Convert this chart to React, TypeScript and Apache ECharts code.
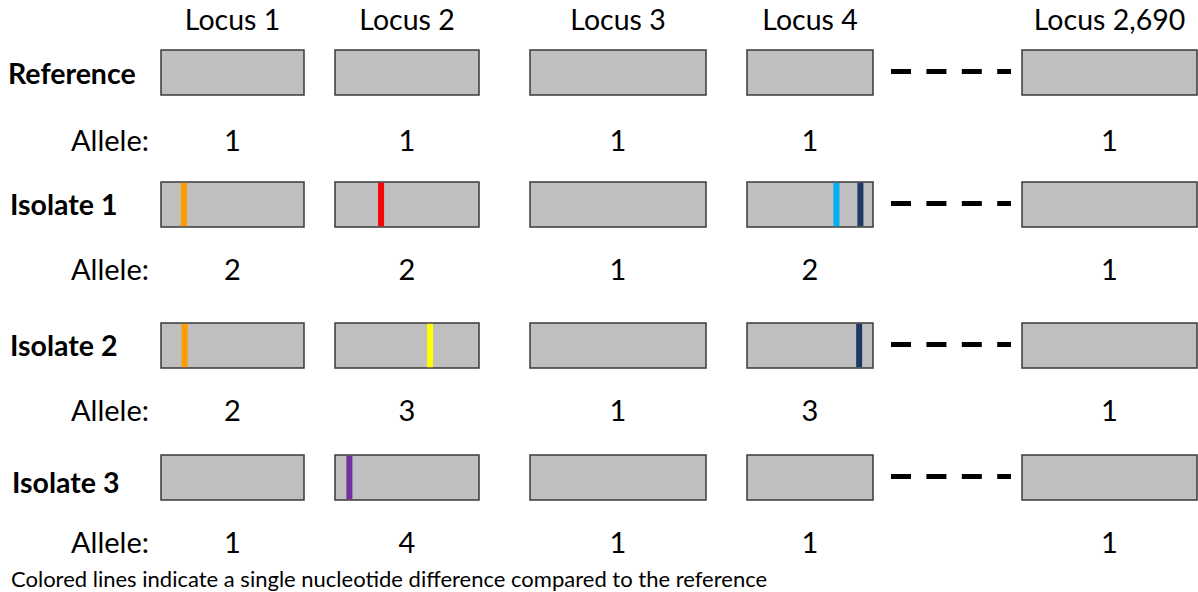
import React, { useEffect, useRef } from "react";
import * as echarts from "echarts";

// ---------- data ----------
const loci = ["Locus 1", "Locus 2", "Locus 3", "Locus 4", "Locus 2,690"];
const rows = ["Reference", "Isolate 1", "Isolate 2", "Isolate 3"];
const alleleLabel = "Allele:";
const alleles = [
  [1, 1, 1, 1, 1],
  [2, 2, 1, 2, 1],
  [2, 3, 1, 3, 1],
  [1, 4, 1, 1, 1],
];
// single nucleotide differences: row, locus, relative position inside the locus (0..1)
const snpRow = [1, 1, 1, 1, 2, 2, 2, 3];
const snpLocus = [0, 1, 3, 3, 0, 1, 3, 1];
const snpPos = [0.16, 0.32, 0.71, 0.9, 0.165, 0.66, 0.89, 0.1];
const snpKind = [0, 1, 2, 3, 0, 4, 3, 5];
const caption =
  "Colored lines indicate a single nucleotide difference compared to the reference";

// ---------- layout / style ----------
const W = 1198;
const H = 592;
const locusLeft = [161, 335, 530, 747, 1022];
const locusRight = [304, 479, 706, 873, 1197];
const rowTop = [50, 182, 323, 455];
const boxH = 45;
const headerY = 19;
const alleleY = [139, 268, 409, 541];
const labelY = [73, 204, 345, 482];
const labelX = [8, 10, 10, 12];
const alleleLabelRight = 149;
const dashStart = 891;
const dashEnd = 1011;
const snpW = 6;
const snpColors = ["#FF9A00", "#FF0000", "#00B0F0", "#1F3864", "#FFFF00", "#7030A0"];
const FONT = "Lato, 'Open Sans', sans-serif";

export default function App() {
  const ref = useRef<HTMLDivElement>(null);

  useEffect(() => {
    document.body.style.margin = "0";
    const chart = echarts.init(ref.current!, null, { renderer: "svg" });

    const boxData: number[][] = [];
    rows.forEach((_, r) => loci.forEach((_, l) => boxData.push([l, r])));

    const snpData = snpRow.map((r, i) => [snpLocus[i], r, snpPos[i], snpKind[i]]);

    const alleleData: number[][] = [];
    alleles.forEach((arr, r) => arr.forEach((v, l) => alleleData.push([l, r, v])));

    const option: any = {
      animation: false,
      backgroundColor: "#ffffff",
      grid: { left: 0, right: 0, top: 0, bottom: 0 },
      xAxis: { type: "value", min: 0, max: W, show: false },
      yAxis: { type: "value", min: 0, max: H, inverse: true, show: false },
      series: [
        {
          type: "custom",
          name: "boxes",
          clip: false,
          data: boxData,
          renderItem: (_p: any, api: any) => {
            const l = api.value(0);
            const r = api.value(1);
            const a = api.coord([locusLeft[l], rowTop[r]]);
            const b = api.coord([locusRight[l], rowTop[r] + boxH]);
            return {
              type: "rect",
              shape: { x: a[0], y: a[1], width: b[0] - a[0], height: b[1] - a[1] },
              style: { fill: "#BFBFBF", stroke: "#3A3A3A", lineWidth: 1.5 },
            };
          },
        },
        {
          type: "custom",
          name: "snps",
          clip: false,
          z: 3,
          data: snpData,
          renderItem: (_p: any, api: any) => {
            const l = api.value(0);
            const r = api.value(1);
            const pos = api.value(2);
            const k = api.value(3);
            const cx = locusLeft[l] + pos * (locusRight[l] - locusLeft[l]);
            const a = api.coord([cx - snpW / 2, rowTop[r] + 0.8]);
            const b = api.coord([cx + snpW / 2, rowTop[r] + boxH - 0.8]);
            return {
              type: "rect",
              shape: { x: a[0], y: a[1], width: b[0] - a[0], height: b[1] - a[1] },
              style: { fill: snpColors[k] },
            };
          },
        },
        {
          type: "custom",
          name: "dashes",
          clip: false,
          data: rows.map((_, r) => [r]),
          renderItem: (_p: any, api: any) => {
            const r = api.value(0);
            const y = rowTop[r] + boxH / 2 - 1;
            const a = api.coord([dashStart, y]);
            const b = api.coord([dashEnd, y]);
            return {
              type: "line",
              shape: { x1: a[0], y1: a[1], x2: b[0], y2: b[1] },
              style: { stroke: "#000000", lineWidth: 5, lineDash: [20, 15.4], lineCap: "butt" },
            };
          },
        },
        {
          type: "custom",
          name: "headers",
          clip: false,
          data: loci.map((_, l) => [l]),
          renderItem: (_p: any, api: any) => {
            const l = api.value(0);
            const p = api.coord([(locusLeft[l] + locusRight[l]) / 2, headerY]);
            return {
              type: "text",
              x: p[0],
              y: p[1],
              style: {
                text: loci[l],
                fill: "#000000",
                fontFamily: FONT,
                fontSize: 28.5,
                align: "center",
                verticalAlign: "middle",
              },
            };
          },
        },
        {
          type: "custom",
          name: "rowLabels",
          clip: false,
          data: rows.map((_, r) => [r]),
          renderItem: (_p: any, api: any) => {
            const r = api.value(0);
            const p = api.coord([labelX[r], labelY[r]]);
            return {
              type: "text",
              x: p[0],
              y: p[1],
              style: {
                text: rows[r],
                fill: "#000000",
                fontFamily: FONT,
                fontWeight: "bold",
                fontSize: 28.5,
                align: "left",
                verticalAlign: "middle",
              },
            };
          },
        },
        {
          type: "custom",
          name: "alleleLabels",
          clip: false,
          data: rows.map((_, r) => [r]),
          renderItem: (_p: any, api: any) => {
            const r = api.value(0);
            const p = api.coord([alleleLabelRight, alleleY[r]]);
            return {
              type: "text",
              x: p[0],
              y: p[1],
              style: {
                text: alleleLabel,
                fill: "#000000",
                fontFamily: FONT,
                fontSize: 29,
                align: "right",
                verticalAlign: "middle",
              },
            };
          },
        },
        {
          type: "custom",
          name: "alleles",
          clip: false,
          data: alleleData,
          renderItem: (_p: any, api: any) => {
            const l = api.value(0);
            const r = api.value(1);
            const v = api.value(2);
            const p = api.coord([(locusLeft[l] + locusRight[l]) / 2, alleleY[r]]);
            return {
              type: "text",
              x: p[0],
              y: p[1],
              style: {
                text: String(v),
                fill: "#000000",
                fontFamily: FONT,
                fontSize: 29,
                align: "center",
                verticalAlign: "middle",
              },
            };
          },
        },
      ],
      graphic: [
        {
          type: "text",
          x: 11,
          y: 578,
          style: {
            text: caption,
            fill: "#000000",
            fontFamily: FONT,
            fontSize: 22,
            align: "left",
            verticalAlign: "middle",
          },
        },
      ],
    };

    chart.setOption(option);
    return () => chart.dispose();
  }, []);

  return <div ref={ref} style={{ width: W, height: H }} />;
}
